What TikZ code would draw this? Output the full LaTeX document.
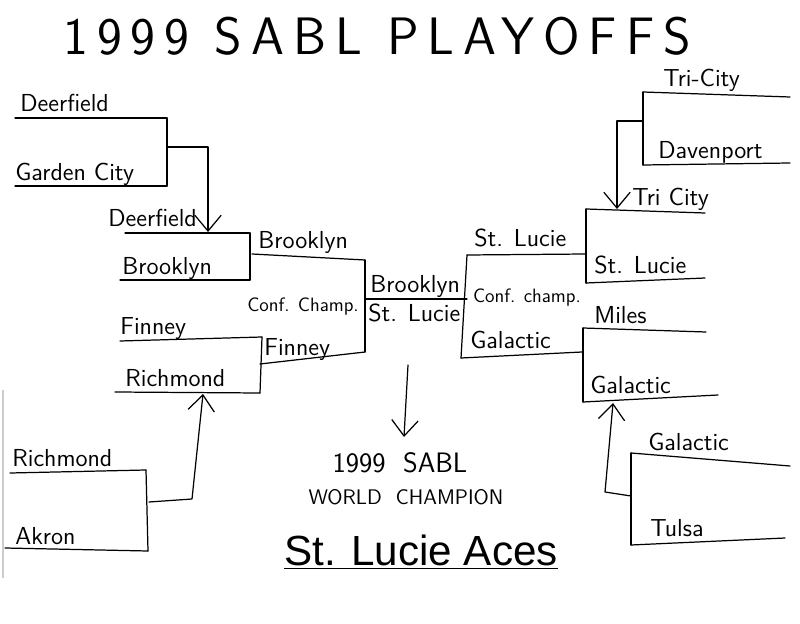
\documentclass[tikz,border=0pt]{standalone}
\usepackage{fontspec}
\newfontfamily\arialfont{Liberation Sans}
\newfontfamily\titlefont[LetterSpace=17]{Latin Modern Sans}
\usetikzlibrary{arrows.meta,positioning}
\begin{document}
\begin{tikzpicture}[x=0.02cm, y=-0.02cm,
		team/.style={anchor=base west, inner sep=0pt, font=\sffamily\fontsize{14}{14}\selectfont},
		note/.style={inner sep=0pt, font=\sffamily\fontsize{11}{11}\selectfont},
		pen/.style={line width=0.7pt, line cap=round, line join=round},
		adv/.style={pen, -{Straight Barb[length=9pt, width=15pt, line width=0.7pt]}},
	]
		\useasboundingbox (0,0) rectangle (800,624);
		\node (title) at (377,36) [font=\titlefont\fontsize{30}{30}\selectfont] {1999 SABL PLAYOFFS};

		% left, first round
		\coordinate (dfA) at (15,118); \coordinate (dfB) at (167,118);
		\coordinate (gcA) at (15,186); \coordinate (gcB) at (167,186);
		\node (df1) [team] at (20,112) {Deerfield};
		\node (gc1) [team] at (15,181) {Garden City};
		\coordinate (rmA) at (10,473); \coordinate (rmB) at (146,470);
		\coordinate (akA) at (5,548); \coordinate (akB) at (148,551);
		\node (rm1) [team] at (12,466) {Richmond};
		\node (ak1) [team] at (15,544) {Akron};

		% left, second round
		\coordinate (dfC) at (125,233); \coordinate (dfD) at (250,233);
		\coordinate (bkC) at (120,280); \coordinate (bkD) at (250,280);
		\node (df2) [team] at (108,227) {Deerfield};
		\node (bk2) [team] at (122,275) {Brooklyn};
		\coordinate (fnC) at (120,341); \coordinate (fnD) at (262,337);
		\coordinate (rmC) at (115,392); \coordinate (rmD) at (260,393);
		\node (fn2) [team] at (120,335) {Finney};
		\node (rm2) [team] at (125,386) {Richmond};

		% left, third round
		\coordinate (bkE) at (252,254); \coordinate (bkF) at (365,260);
		\coordinate (fnE) at (260,364); \coordinate (fnF) at (365,352);
		\node (bk3) [team] at (258,249) {Brooklyn};
		\node (fn3) [team] at (264,356) {Finney};
		\node (confL) [note] at (303,307) {Conf. Champ.};

		% final
		\coordinate (fiA) at (365,299); \coordinate (fiB) at (467,299);
		\node (bk4) [team] at (370,293) {Brooklyn};
		\node (sl4) [team] at (368,322) {St. Lucie};

		% right, third round
		\coordinate (slE) at (467,255); \coordinate (slF) at (586,254);
		\coordinate (gaE) at (461,358); \coordinate (gaF) at (582,352);
		\node (sl3) [team] at (474,247) {St. Lucie};
		\node (ga3) [team] at (470,349) {Galactic};
		\node (confR) [note] at (527,298) {Conf. champ.};

		% right, second round
		\coordinate (tcC) at (586,209); \coordinate (tcD) at (705,213);
		\coordinate (slC) at (586,283); \coordinate (slD) at (705,278);
		\node (tc2) [team] at (632,206) {Tri City};
		\node (sl2) [team] at (594,274) {St. Lucie};
		\coordinate (miC) at (583,328); \coordinate (miD) at (706,332);
		\coordinate (gaC) at (583,402); \coordinate (gaD) at (718,395);
		\node (mi2) [team] at (594,324) {Miles};
		\node (ga2) [team] at (590,393) {Galactic};

		% right, first round
		\coordinate (tcA) at (643,92); \coordinate (tcB) at (790,97);
		\coordinate (dvA) at (643,165); \coordinate (dvB) at (790,163);
		\node (tc1) [team] at (663,87) {Tri-City};
		\node (dv1) [team] at (658,159) {Davenport};
		\coordinate (gaA) at (631,453); \coordinate (gaB) at (790,466);
		\coordinate (tuA) at (631,545); \coordinate (tuB) at (785,538);
		\node (ga1) [team] at (648,450) {Galactic};
		\node (tu1) [team] at (650,536) {Tulsa};

		% bracket lines
		\foreach \a/\b in {dfA/dfB, gcA/gcB, rmA/rmB, akA/akB, dfC/dfD, bkC/bkD, fnC/fnD, rmC/rmD,
			bkE/bkF, fnE/fnF, fiA/fiB, slE/slF, gaE/gaF, tcC/tcD, slC/slD, miC/miD, gaC/gaD,
			tcA/tcB, dvA/dvB, gaA/gaB, tuA/tuB}
			\draw[pen] (\a) -- (\b);
		\draw[pen] (dfB) -- (gcB);
		\draw[pen] (rmB) -- (akB);
		\draw[pen] (dfD) -- (bkD);
		\draw[pen] (fnD) -- (rmD);
		\draw[pen] (bkF) -- (fnF);
		\draw[pen] (slE) -- (gaE);
		\draw[pen] (tcC) -- (slC);
		\draw[pen] (miC) -- (gaC);
		\draw[pen] (tcA) -- (dvA);
		\draw[pen] (gaA) -- (tuA);

		% winners moving on
		\draw[adv] (167,147) -- (208,147) -- (208,232);
		\draw[adv] (149,502) -- (192,499) -- (203,394);
		\draw[adv] (643,121) -- (617,121) -- (617,209);
		\draw[adv] (631,496) -- (605,492) -- (613,403);

		% champion
		\coordinate (down) at (408,365);
		\coordinate (downEnd) at (404,437);
		\node (sabl) at (400,463) [font=\sffamily\fontsize{16}{16}\selectfont] {1999 \ SABL};
		\node (world) at (406,497) [font=\sffamily\fontsize{12}{12}\selectfont] {WORLD \ CHAMPION};
		\draw[adv] (down) -- (downEnd);
		\node (aces) at (421,552) [font=\arialfont\fontsize{24}{24}\selectfont] {\underline{St. Lucie Aces}};

		\draw[gray!40, line width=0.6pt] (3,390) -- (3,578);
	\end{tikzpicture}
\end{document}
